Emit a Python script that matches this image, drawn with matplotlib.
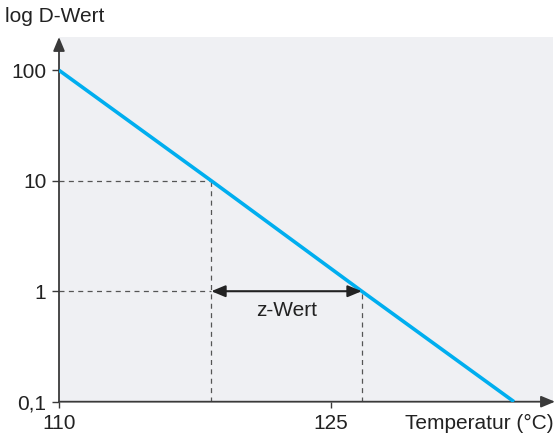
import matplotlib
matplotlib.use("Agg")
import matplotlib.pyplot as plt

plt.rcParams['font.family'] = ['Liberation Sans', 'DejaVu Sans']

# Data
temperatures = [110, 118.4, 126.7, 135.1]
d_values = [100, 10, 1, 0.1]
x_ticks = [110, 125]
x_tick_labels = ["110", "125"]
y_ticks = [0.1, 1, 10, 100]
y_tick_labels = ["0,1", "1", "10", "100"]
z_start, z_end = 118.4, 126.7

fig = plt.figure(figsize=(5.55, 4.36), dpi=100)
ax = fig.add_axes([59/555, 1 - 401.7/436, (553-59)/555, (401.7-37)/436])
ax.set_facecolor('#eff0f3')
ax.set_yscale('log')
ax.set_xlim(110, 137.25)
ax.set_ylim(0.1, 200)
for s in ax.spines.values():
    s.set_visible(False)

axis_col = '#3a3a3a'
head = '-|>,head_length=0.6,head_width=0.25'
# axis lines with arrows
ax.annotate('', xy=(1.004, 0), xytext=(0, 0), xycoords='axes fraction',
            arrowprops=dict(arrowstyle=head, color=axis_col, lw=1.3,
                            mutation_scale=14, shrinkA=0, shrinkB=0), annotation_clip=False)
ax.annotate('', xy=(0, 1.0), xytext=(0, 0), xycoords='axes fraction',
            arrowprops=dict(arrowstyle=head, color=axis_col, lw=1.3,
                            mutation_scale=14, shrinkA=0, shrinkB=0), annotation_clip=False)

ax.set_xticks(x_ticks)
ax.set_xticklabels(x_tick_labels)
ax.set_yticks(y_ticks)
ax.set_yticklabels(y_tick_labels)
ax.minorticks_off()
ax.tick_params(axis='x', direction='out', length=4.5, width=1, color=axis_col,
               labelsize=15, labelcolor='#222222', pad=4)
ax.tick_params(axis='y', direction='out', length=5, width=1, color=axis_col,
               labelsize=15, labelcolor='#222222', pad=4)

dash_col = '#555555'
dash = (0, (4, 3.5))
# dashed guide lines
ax.plot([110, temperatures[1]], [d_values[1], d_values[1]], ls=dash, color=dash_col, lw=0.9)
ax.plot([temperatures[1], temperatures[1]], [0.1, d_values[1]], ls=dash, color=dash_col, lw=0.9)
ax.plot([110, temperatures[1]], [d_values[2], d_values[2]], ls=dash, color=dash_col, lw=0.9)
ax.plot([temperatures[2], temperatures[2]], [0.1, d_values[2]], ls=dash, color=dash_col, lw=0.9)

# main line
ax.plot(temperatures, d_values, color='#00aeef', lw=2.6, solid_capstyle='butt', zorder=5)

# z-Wert double arrow
ax.annotate('', xy=(z_end, 1), xytext=(z_start, 1),
            arrowprops=dict(arrowstyle='<|-|>,head_length=0.6,head_width=0.25', color='#222222', lw=1.5,
                            mutation_scale=14, shrinkA=0, shrinkB=0), zorder=6)
ax.text((z_start + z_end) / 2, 0.673, 'z-Wert', ha='center', va='center',
        fontsize=15, color='#222222')

fig.text(5/555, 1 - 17/436, 'log D-Wert', ha='left', va='center', fontsize=15, color='#222222')
fig.text(554/555, 1 - 423/436, 'Temperatur (°C)', ha='right', va='center', fontsize=15, color='#222222')

fig.savefig('out.png', dpi=100)
